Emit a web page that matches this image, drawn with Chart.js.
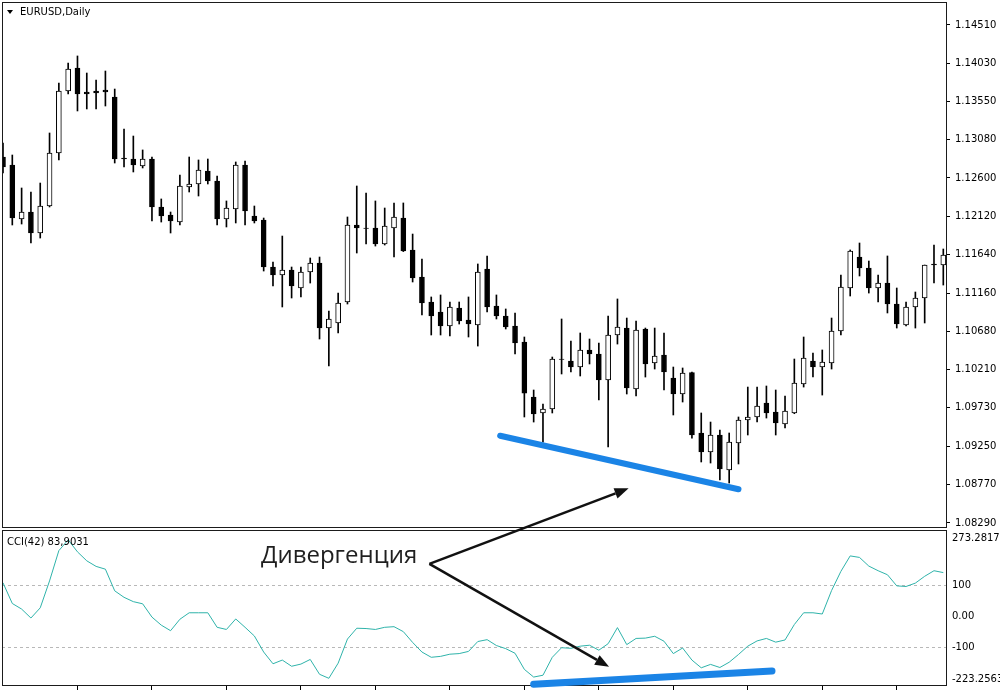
<!DOCTYPE html>
<html lang="ru">
<head>
<meta charset="utf-8">
<title>EURUSD, Daily - CCI(42)</title>
<script src="https://cdn.jsdelivr.net/npm/chart.js@4.4.1/dist/chart.umd.min.js"></script>
<style>
    html, body { margin: 0; padding: 0; background: #fff; }
    #lienzo { position: relative; width: 1000px; height: 690px; overflow: hidden; background: #fff; }
    #precio { position: absolute; left: 0; top: 0; }
    #cci { position: absolute; left: 0; top: 529px; }
    #capa { position: absolute; left: 0; top: 0; pointer-events: none; }
    .rotulo { position: absolute; font-family: "DejaVu Sans", sans-serif; font-size: 10px; line-height: 10px; color: #000; white-space: nowrap; }
    #simbolo { left: 20px; top: 6.5px; }
    #indicador { left: 7px; top: 536.5px; }
    #triangulo { position: absolute; left: 7px; top: 9.5px; width: 0; height: 0;
        border-left: 3.5px solid transparent; border-right: 3.5px solid transparent; border-top: 4px solid #000; }
    #divergencia { position: absolute; left: 261px; top: 541.7px; font-family: "Open Sans", sans-serif;
        font-size: 24px; line-height: 24px; color: #1f1f1f; white-space: nowrap; }
</style>
</head>
<body>
<div id="lienzo">
    <canvas id="precio" width="1000" height="531"></canvas>
    <canvas id="cci" width="1000" height="161"></canvas>
    <canvas id="capa" width="1000" height="690"></canvas>
    <div id="triangulo"></div>
    <div class="rotulo" id="simbolo">EURUSD,Daily</div>
    <div class="rotulo" id="indicador">CCI(42) 83,9031</div>
    <div id="divergencia">Дивергенция</div>
</div>
<script>
// Свечи EURUSD D1, по порядку слева направо (индекс = номер бара)
const openP = [
    1.12861, 1.12761, 1.12087, 1.12174, 1.11912, 1.12249, 1.12911, 1.13685, 1.13973, 1.13673,
    1.13685, 1.13698, 1.13611, 1.12849, 1.12836, 1.12749, 1.12836, 1.12237, 1.12137, 1.12049,
    1.12486, 1.12524, 1.12686, 1.12561, 1.12087, 1.12212, 1.12761, 1.12124, 1.12074, 1.11487,
    1.11387, 1.11450, 1.11225, 1.11425, 1.11537, 1.10725, 1.10788, 1.11050, 1.12012, 1.11974,
    1.11974, 1.11774, 1.11974, 1.12099, 1.11700, 1.11362, 1.11050, 1.10925, 1.10750, 1.10975,
    1.10825, 1.10763, 1.11462, 1.11000, 1.10875, 1.10750, 1.10550, 1.09864, 1.09664, 1.09714,
    1.10338, 1.10313, 1.10238, 1.10451, 1.10401, 1.10076, 1.10638, 1.10725, 1.09963, 1.10713,
    1.10288, 1.10388, 1.10101, 1.09901, 1.10170, 1.09414, 1.09177, 1.09389, 1.08952, 1.09289,
    1.09576, 1.09614, 1.09789, 1.09676, 1.09526, 1.09664, 1.10026, 1.10313, 1.10238, 1.10288,
    1.10688, 1.11225, 1.11612, 1.11475, 1.11225, 1.11287, 1.11025, 1.10763, 1.10988, 1.11100,
    1.11525, 1.11512
];
const highP = [
    1.13036, 1.12886, 1.12474, 1.12424, 1.12536, 1.13161, 1.13785, 1.14035, 1.14123, 1.13910,
    1.13823, 1.13935, 1.13710, 1.13211, 1.13123, 1.12949, 1.12861, 1.12337, 1.12174, 1.12636,
    1.12861, 1.12824, 1.12836, 1.12624, 1.12312, 1.12799, 1.12811, 1.12249, 1.12099, 1.11550,
    1.11874, 1.11487, 1.11487, 1.11600, 1.11612, 1.10938, 1.11162, 1.12112, 1.12499, 1.12411,
    1.12312, 1.12224, 1.12287, 1.12287, 1.11899, 1.11587, 1.11113, 1.11138, 1.11050, 1.11050,
    1.11113, 1.11525, 1.11625, 1.11138, 1.10963, 1.10913, 1.10613, 1.09951, 1.09776, 1.10363,
    1.10838, 1.10563, 1.10663, 1.10588, 1.10538, 1.10875, 1.11088, 1.10850, 1.10813, 1.10725,
    1.10725, 1.10663, 1.10238, 1.10226, 1.10176, 1.09664, 1.09551, 1.09451, 1.09414, 1.09614,
    1.09988, 1.09988, 1.10001, 1.09951, 1.09876, 1.10338, 1.10613, 1.10413, 1.10451, 1.10850,
    1.11387, 1.11700, 1.11787, 1.11562, 1.11387, 1.11625, 1.11225, 1.11050, 1.11175, 1.11512,
    1.11762, 1.11712
];
const lowP = [
    1.12661, 1.12012, 1.12024, 1.11787, 1.11849, 1.12237, 1.12824, 1.13648, 1.13436, 1.13461,
    1.13461, 1.13498, 1.12786, 1.12736, 1.12674, 1.12724, 1.12062, 1.12049, 1.11912, 1.12012,
    1.12424, 1.12374, 1.12524, 1.12012, 1.11987, 1.12037, 1.12012, 1.12037, 1.11437, 1.11250,
    1.10988, 1.11100, 1.11113, 1.11287, 1.10588, 1.10251, 1.10663, 1.11025, 1.11662, 1.11774,
    1.11749, 1.11762, 1.11612, 1.11680, 1.11300, 1.10888, 1.10638, 1.10638, 1.10625, 1.10775,
    1.10613, 1.10500, 1.10925, 1.10838, 1.10713, 1.10401, 1.09614, 1.09551, 1.09301, 1.09664,
    1.10151, 1.10176, 1.10126, 1.10276, 1.09826, 1.09239, 1.10525, 1.09901, 1.09876, 1.10113,
    1.10213, 1.09951, 1.09639, 1.09801, 1.09351, 1.09052, 1.09039, 1.08827, 1.08789, 1.09027,
    1.09389, 1.09551, 1.09601, 1.09389, 1.09476, 1.09655, 1.09988, 1.10113, 1.09888, 1.10213,
    1.10638, 1.11125, 1.11375, 1.11162, 1.11050, 1.10913, 1.10725, 1.10750, 1.10725, 1.10788,
    1.11287, 1.11262
];
const closeP = [
    1.12736, 1.12099, 1.12174, 1.11912, 1.12249, 1.12911, 1.13685, 1.13960, 1.13648, 1.13648,
    1.13660, 1.13673, 1.12836, 1.12836, 1.12761, 1.12836, 1.12237, 1.12124, 1.12062, 1.12499,
    1.12524, 1.12699, 1.12561, 1.12087, 1.12224, 1.12761, 1.12187, 1.12062, 1.11487, 1.11387,
    1.11450, 1.11250, 1.11425, 1.11537, 1.10725, 1.10838, 1.11038, 1.12012, 1.11974, 1.11968,
    1.11774, 1.11999, 1.12112, 1.11687, 1.11350, 1.11038, 1.10875, 1.10750, 1.10988, 1.10813,
    1.10775, 1.11425, 1.10988, 1.10875, 1.10738, 1.10538, 1.09913, 1.09651, 1.09714, 1.10338,
    1.10332, 1.10238, 1.10451, 1.10401, 1.10076, 1.10638, 1.10738, 1.09976, 1.10700, 1.10276,
    1.10376, 1.10176, 1.09901, 1.10163, 1.09389, 1.09177, 1.09389, 1.08964, 1.09301, 1.09576,
    1.09614, 1.09751, 1.09664, 1.09539, 1.09689, 1.10038, 1.10351, 1.10238, 1.10301, 1.10688,
    1.11237, 1.11687, 1.11475, 1.11225, 1.11287, 1.11025, 1.10775, 1.10988, 1.11100, 1.11512,
    1.11512, 1.11637
];

// CCI(42) по тем же барам
const cciValues = [
    109, 42, 24, -5, 28, 115, 213, 248, 209, 180,
    162, 153, 83, 62, 48, 41, -2, -28, -46, -9,
    12, 12, 12, -35, -42, -8, -35, -63, -115, -153,
    -141, -161, -154, -139, -187, -200, -151, -73, -38, -39,
    -42, -35, -33, -49, -84, -115, -132, -129, -122, -120,
    -113, -81, -75, -94, -104, -119, -171, -196, -190, -132,
    -101, -103, -96, -93, -109, -88, -36, -91, -71, -70,
    -64, -80, -120, -102, -141, -166, -155, -165, -148, -123,
    -96, -79, -71, -83, -76, -26, 12, 12, 8, 84,
    146, 196, 191, 163, 148, 135, 99, 97, 108, 130,
    148, 142
];

// Подписи шкал
const priceTicks = [1.08290, 1.08770, 1.09250, 1.09730, 1.10210, 1.10680, 1.11160,
    1.11640, 1.12120, 1.12600, 1.13080, 1.13550, 1.14030, 1.14510];
const cciTicks = [-223.2563, -100, 0, 100, 273.2817];
const cciTickLabels = ['-223.2563', '-100', '0.00', '100', '273.2817'];
const cciLevels = [-100, 100];
const timeTicks = [8, 16, 24, 32, 40, 48, 56, 64, 72, 80, 88, 96];

// Разметка: линии дивергенции и стрелки (бар, значение)
const priceDivLine = [[53.4, 1.09380], [79.0, 1.08711]];
const cciDivLine = [[57.0, -219], [82.6, -176]];
const arrowFrom = [45.8, 170];       // в координатах CCI, у надписи
const arrowToPrice = [67.2, 1.08723];
const arrowToCci = [65.1, -163];

// Видимый диапазон
const X_MIN = -0.107, X_MAX = 101.29;
const Y_MIN = 1.08240, Y_MAX = 1.14797;

Chart.defaults.font.family = '"DejaVu Sans", sans-serif';
Chart.defaults.font.size = 10;
Chart.defaults.color = '#000';

// Рамка вокруг области графика (arriba - насколько поднять верхнюю линию)
const marco = {
    id: 'marco',
    afterDraw(chart, args, opts) {
        let ctx = chart.ctx;
        let a = chart.chartArea;
        let arriba = opts.arriba || 0;
        ctx.save();
        ctx.strokeStyle = '#1b1b1b';
        ctx.lineWidth = 1;
        ctx.strokeRect(Math.floor(a.left) + 0.5, Math.floor(a.top - arriba) + 0.5,
            Math.round(a.right - a.left), Math.round(a.bottom - a.top + arriba));
        ctx.restore();
    }
};

function fijarEje(ancho) {
    return function (scale) {
        scale.width = ancho;
        scale.paddingTop = 0;
        scale.paddingBottom = 0;
    };
}

window.addEventListener('load', function () {
    let velas = openP.map((o, i) => ({x: i, y: [o, closeP[i]]}));
    let mechas = lowP.map((l, i) => ({x: i, y: [l, highP[i]]}));
    let colores = openP.map((o, i) => closeP[i] < o ? '#000' : '#fff');

    let graficoPrecio = new Chart(document.getElementById('precio'), {
        type: 'bar',
        data: {
            datasets: [{
                data: velas,
                backgroundColor: colores,
                borderColor: '#000',
                borderWidth: 1,
                borderSkipped: false,
                barThickness: 5,
                maxBarThickness: 5,
                grouped: false,
                order: 0
            }, {
                data: mechas,
                backgroundColor: '#000',
                borderWidth: 0,
                barThickness: 1,
                maxBarThickness: 1,
                grouped: false,
                order: 1
            }]
        },
        options: {
            responsive: false,
            animation: false,
            devicePixelRatio: 1,
            events: [],
            layout: {padding: {left: 2, top: 2, right: 0, bottom: 4}},
            plugins: {legend: {display: false}, tooltip: {enabled: false}, marco: {arriba: 0}},
            scales: {
                x: {type: 'linear', min: X_MIN, max: X_MAX, offset: false, display: false},
                y: {
                    position: 'right',
                    min: Y_MIN,
                    max: Y_MAX,
                    afterBuildTicks: s => { s.ticks = priceTicks.map(v => ({value: v})); },
                    afterFit: fijarEje(54),
                    ticks: {callback: v => v.toFixed(5), padding: 5, autoSkip: false},
                    grid: {drawOnChartArea: false, drawTicks: true, tickLength: 4, tickColor: '#000'},
                    border: {display: false}
                }
            }
        },
        plugins: [marco]
    });

    let graficoCci = new Chart(document.getElementById('cci'), {
        type: 'line',
        data: {
            datasets: [{
                data: cciValues.map((v, i) => ({x: i, y: v})),
                borderColor: '#2fb3aa',
                borderWidth: 1,
                pointRadius: 0,
                tension: 0
            }]
        },
        options: {
            responsive: false,
            animation: false,
            devicePixelRatio: 1,
            events: [],
            layout: {padding: {left: 2, top: 3, right: 0, bottom: 0}},
            plugins: {legend: {display: false}, tooltip: {enabled: false}, marco: {arriba: 1.5}},
            scales: {
                x: {
                    type: 'linear', min: X_MIN, max: X_MAX, offset: false,
                    afterBuildTicks: s => { s.ticks = timeTicks.map(v => ({value: v})); },
                    afterFit: s => { s.height = 4.5; },
                    ticks: {display: false},
                    grid: {drawOnChartArea: false, drawTicks: true, tickLength: 5, tickColor: '#000'},
                    border: {display: false}
                },
                y: {
                    position: 'right',
                    min: cciTicks[0],
                    max: cciTicks[cciTicks.length - 1],
                    afterBuildTicks: s => { s.ticks = cciTicks.map(v => ({value: v})); },
                    afterFit: fijarEje(54),
                    ticks: {
                        autoSkip: false,
                        padding: 6,
                        // крайние подписи прижаты внутрь панели, как в терминале
                        callback: function (v, i) {
                            if (i === cciTicks.length - 1) return ['', cciTickLabels[i]];
                            if (i === 0) return [cciTickLabels[i], ''];
                            return cciTickLabels[i];
                        }
                    },
                    grid: {
                        drawTicks: false,
                        color: c => (c.tick && cciLevels.includes(c.tick.value)) ? '#b8b8b8' : 'rgba(0,0,0,0)'
                    },
                    border: {display: false, dash: [3, 3]}
                }
            }
        },
        plugins: [marco]
    });

    dibujarAnotaciones(graficoPrecio, graficoCci);
});

function dibujarAnotaciones(gPrecio, gCci) {
    let capa = document.getElementById('capa');
    let ctx = capa.getContext('2d');
    let topCci = document.getElementById('cci').offsetTop;

    let enPrecio = p => ({x: gPrecio.scales.x.getPixelForValue(p[0]), y: gPrecio.scales.y.getPixelForValue(p[1])});
    let enCci = p => ({x: gCci.scales.x.getPixelForValue(p[0]), y: topCci + gCci.scales.y.getPixelForValue(p[1])});

    // Синие линии дивергенции
    ctx.save();
    ctx.strokeStyle = '#1b84e6';
    ctx.lineCap = 'round';
    ctx.lineWidth = 6;
    linea(ctx, enPrecio(priceDivLine[0]), enPrecio(priceDivLine[1]));
    ctx.lineWidth = 7;
    linea(ctx, enCci(cciDivLine[0]), enCci(cciDivLine[1]));
    ctx.restore();

    // Стрелки от надписи
    ctx.save();
    ctx.strokeStyle = '#111';
    ctx.fillStyle = '#111';
    ctx.lineWidth = 2.5;
    let origen = enCci(arrowFrom);
    flecha(ctx, origen, enPrecio(arrowToPrice));
    flecha(ctx, origen, enCci(arrowToCci));
    ctx.restore();
}

function linea(ctx, a, b) {
    ctx.beginPath();
    ctx.moveTo(a.x, a.y);
    ctx.lineTo(b.x, b.y);
    ctx.stroke();
}

function flecha(ctx, a, b) {
    let ang = Math.atan2(b.y - a.y, b.x - a.x);
    let largo = 14;
    let ancho = 5.5;
    let base = {x: b.x - largo * Math.cos(ang), y: b.y - largo * Math.sin(ang)};
    linea(ctx, a, base);
    ctx.beginPath();
    ctx.moveTo(b.x, b.y);
    ctx.lineTo(base.x + ancho * Math.sin(ang), base.y - ancho * Math.cos(ang));
    ctx.lineTo(base.x - ancho * Math.sin(ang), base.y + ancho * Math.cos(ang));
    ctx.closePath();
    ctx.fill();
}
</script>
</body>
</html>
